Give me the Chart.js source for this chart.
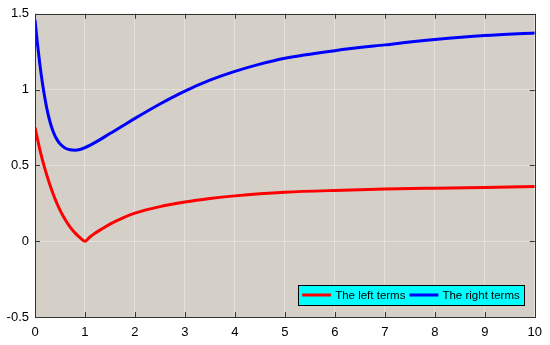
<!DOCTYPE html>
<html>
<head>
<meta charset="utf-8">
<script src="https://cdn.jsdelivr.net/npm/chart.js@4"></script>
<style>
  html, body { margin: 0; padding: 0; background: #fff; }
  #wrap { width: 550px; height: 345px; }
</style>
</head>
<body>
<div id="wrap"><canvas id="myChart"></canvas></div>
<script>
// values
var leftX  = [0, 0.1, 0.2, 0.3, 0.4, 0.5, 0.6, 0.7, 0.8, 0.9, 1.0, 1.1, 1.2, 1.3, 1.5, 1.75, 2, 2.5, 3, 3.5, 4, 4.5, 5, 6, 7, 8, 9, 10];
var leftY  = [0.75, 0.60, 0.475, 0.37, 0.28, 0.205, 0.145, 0.095, 0.055, 0.024, 0.0, 0.028, 0.052, 0.073, 0.113, 0.153, 0.185, 0.228, 0.258, 0.281, 0.299, 0.313, 0.323, 0.335, 0.344, 0.35, 0.355, 0.36];
var rightX = [0, 0.05, 0.1, 0.15, 0.2, 0.25, 0.3, 0.35, 0.4, 0.45, 0.5, 0.6, 0.7, 0.8, 0.9, 1.0, 1.25, 1.5, 1.75, 2, 2.5, 3, 3.5, 4, 4.5, 5, 6, 7, 8, 9, 10];
var rightY = [1.46, 1.30, 1.16, 1.04, 0.94, 0.855, 0.788, 0.735, 0.695, 0.665, 0.643, 0.615, 0.603, 0.60, 0.605, 0.617, 0.66, 0.71, 0.76, 0.81, 0.905, 0.99, 1.062, 1.12, 1.168, 1.207, 1.257, 1.295, 1.33, 1.357, 1.374];
var xTicks = [0, 1, 2, 3, 4, 5, 6, 7, 8, 9, 10];
var yTicks = [-0.5, 0, 0.5, 1, 1.5];
var labels = ["The left terms", "The right terms"];

function pts(xs, ys) {
  return xs.map(function (x, i) { return { x: x, y: ys[i] }; });
}

var font = '"Liberation Sans", Arial, sans-serif';

var plotBg = {
  id: 'plotBg',
  beforeDraw: function (chart) {
    var a = chart.chartArea, c = chart.ctx;
    c.save();
    c.fillStyle = '#d4d0c8';
    c.fillRect(a.left, a.top, a.right - a.left, a.bottom - a.top);
    c.restore();
  }
};

// box, inward ticks and legend drawn on top, like the original figure
var frame = {
  id: 'frame',
  afterDraw: function (chart) {
    var a = chart.chartArea, c = chart.ctx;
    var xs = chart.scales.x, ys = chart.scales.y;
    c.save();
    c.strokeStyle = '#333';
    c.lineWidth = 1;
    c.beginPath();
    xTicks.forEach(function (t) {
      var px = Math.round(xs.getPixelForValue(t)) + 0.5;
      c.moveTo(px, a.bottom); c.lineTo(px, a.bottom - 5);
      c.moveTo(px, a.top); c.lineTo(px, a.top + 5);
    });
    yTicks.forEach(function (t) {
      var py = Math.round(ys.getPixelForValue(t)) + 0.5;
      c.moveTo(a.left, py); c.lineTo(a.left + 5, py);
      c.moveTo(a.right, py); c.lineTo(a.right - 5, py);
    });
    c.stroke();
    c.strokeRect(Math.round(a.left) + 0.5, Math.round(a.top) + 0.5,
                 Math.round(a.right - a.left), Math.round(a.bottom - a.top));

    // legend
    c.font = '11.5px ' + font;
    var lineLen = 29, pad = 4, gap = 4, sep = 4;
    var w0 = c.measureText(labels[0]).width, w1 = c.measureText(labels[1]).width;
    var w = pad + lineLen + gap + w0 + sep + lineLen + gap + w1 + pad;
    var h = 20;
    var right = a.right - 11, bottom = a.bottom - 12;
    var left = right - w, top = bottom - h;
    c.fillStyle = '#00ffff';
    c.fillRect(left, top, w, h);
    c.strokeStyle = '#000';
    c.strokeRect(Math.round(left) + 0.5, Math.round(top) + 0.5, Math.round(w), h);
    var cy = top + h / 2;
    var colors = chart.data.datasets.map(function (d) { return d.borderColor; });
    var x = left + pad;
    c.lineWidth = 3;
    c.textBaseline = 'middle';
    c.fillStyle = '#000';
    [w0, w1].forEach(function (tw, i) {
      c.strokeStyle = colors[i];
      c.beginPath(); c.moveTo(x, cy); c.lineTo(x + lineLen, cy); c.stroke();
      x += lineLen + gap;
      c.fillText(labels[i], x, cy + 1);
      x += tw + sep;
    });
    c.restore();
  }
};

var ctx = document.getElementById('myChart').getContext('2d');
var chart = new Chart(ctx, {
  type: 'line',
  data: {
    datasets: [{
      label: labels[0],
      data: pts(leftX, leftY),
      borderColor: '#ff0000',
      borderWidth: 3,
      pointRadius: 0,
      cubicInterpolationMode: 'monotone',
      fill: false
    }, {
      label: labels[1],
      data: pts(rightX, rightY),
      borderColor: '#0000ff',
      borderWidth: 3,
      pointRadius: 0,
      cubicInterpolationMode: 'monotone',
      fill: false
    }]
  },
  plugins: [plotBg, frame],
  options: {
    responsive: true,
    maintainAspectRatio: false,
    animation: false,
    layout: { padding: { top: 10, right: 12, left: 0, bottom: 0 } },
    plugins: { legend: { display: false }, tooltip: { enabled: false } },
    scales: {
      x: {
        type: 'linear',
        min: 0, max: 10,
        afterBuildTicks: function (s) { s.ticks = xTicks.map(function (v) { return { value: v }; }); },
        afterFit: function (s) { s.height = 28; },
        grid: { color: 'rgba(255,255,255,0.35)', drawTicks: false },
        border: { display: false },
        ticks: { color: '#000', font: { family: font, size: 13 }, padding: 8, maxRotation: 0,
                 callback: function (v) { return String(v); } }
      },
      y: {
        type: 'linear',
        min: -0.5, max: 1.5,
        afterBuildTicks: function (s) { s.ticks = yTicks.map(function (v) { return { value: v }; }); },
        afterFit: function (s) { s.width = 35; },
        grid: { color: 'rgba(255,255,255,0.35)', drawTicks: false },
        border: { display: false },
        ticks: { color: '#000', font: { family: font, size: 13 }, padding: 6,
                 callback: function (v) { return String(v); } }
      }
    }
  }
});
</script>
</body>
</html>
